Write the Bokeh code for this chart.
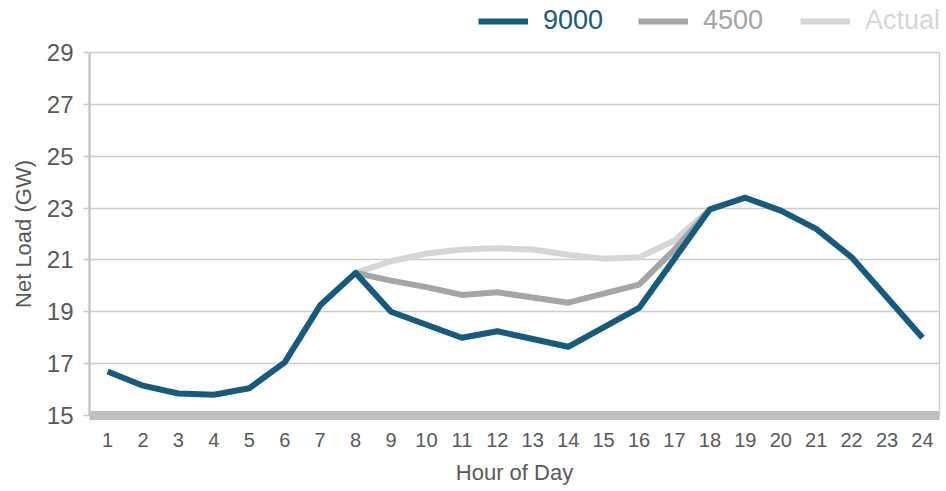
from bokeh.plotting import figure
from bokeh.layouts import column
from bokeh.models import Legend, LegendItem, FixedTicker, Range1d
from bokeh.embed import file_html
from bokeh.resources import INLINE

# Net load by hour of day (GW)
hours = list(range(1, 25))
load_9000 = [16.7, 16.15, 15.85, 15.8, 16.05, 17.05, 19.25, 20.5, 19.0, 18.5, 18.0, 18.25,
             17.95, 17.65, 18.4, 19.15, 21.05, 22.95, 23.4, 22.9, 22.2, 21.1, 19.55, 18.0]

# The 4500 and Actual cases differ from 9000 only between hours 8 and 18
hours_mid = list(range(8, 19))
load_4500 = [20.5, 20.2, 19.95, 19.65, 19.75, 19.55, 19.35, 19.7, 20.05, 21.4, 22.95]
load_actual = [20.5, 20.95, 21.25, 21.4, 21.45, 21.4, 21.2, 21.05, 21.1, 21.75, 22.95]

y_ticks = [15, 17, 19, 21, 23, 25, 27, 29]

series = [("9000", "#165a7e"), ("4500", "#a5a5a5"), ("Actual", "#d6d6d6")]
TEXT = "#595959"
SANS = "Liberation Sans"
LW = 6

# ---- main chart ----
p = figure(width=946, height=455, output_backend="svg", toolbar_location=None,
           x_range=Range1d(0.49, 24.48), y_range=Range1d(15, 29),
           min_border_left=89, min_border_right=7, min_border_top=16, min_border_bottom=76)

p.line(hours_mid, load_actual, line_color=series[2][1], line_width=LW, line_join="round")
p.line(hours_mid, load_4500, line_color=series[1][1], line_width=LW, line_join="round")
p.line(hours, load_9000, line_color=series[0][1], line_width=LW, line_join="round")

p.outline_line_color = "#cfcfcf"
p.outline_line_width = 1.5
p.background_fill_color = "white"
p.border_fill_color = "white"

p.xgrid.visible = False
p.ygrid.grid_line_color = "#cccccc"
p.ygrid.grid_line_width = 1.5

p.yaxis.ticker = FixedTicker(ticks=y_ticks)
p.yaxis.minor_tick_line_color = None
p.yaxis.major_tick_out = 6
p.yaxis.major_tick_in = 0
p.yaxis.major_tick_line_color = "#c8c8c8"
p.yaxis.major_tick_line_width = 1.5
p.yaxis.axis_line_color = "#c0c0c0"
p.yaxis.axis_line_width = 2
p.yaxis.major_label_text_font = SANS
p.yaxis.major_label_text_font_size = "24px"
p.yaxis.major_label_text_color = TEXT
p.yaxis.major_label_standoff = 10
p.yaxis.axis_label = "Net Load (GW)"
p.yaxis.axis_label_text_font = SANS
p.yaxis.axis_label_text_font_size = "22px"
p.yaxis.axis_label_text_font_style = "normal"
p.yaxis.axis_label_text_color = TEXT
p.yaxis.axis_label_standoff = 8

# thick gray baseline along the hour axis
p.xaxis.ticker = FixedTicker(ticks=hours)
p.xaxis.minor_tick_line_color = None
p.xaxis.major_tick_line_color = None
p.xaxis.axis_line_color = "#bfbfbf"
p.xaxis.axis_line_width = 9
p.xaxis.major_label_text_font = SANS
p.xaxis.major_label_text_font_size = "20px"
p.xaxis.major_label_text_color = TEXT
p.xaxis.major_label_standoff = 11
p.xaxis.axis_label = "Hour of Day"
p.xaxis.axis_label_text_font = SANS
p.xaxis.axis_label_text_font_size = "22px"
p.xaxis.axis_label_text_font_style = "normal"
p.xaxis.axis_label_text_color = TEXT
p.xaxis.axis_label_standoff = 10

# ---- legend strip above the chart (its frame lines up with the chart's) ----
lg = figure(width=946, height=36, output_backend="svg", toolbar_location=None,
            x_range=Range1d(0, 1), y_range=Range1d(0, 1),
            min_border_left=89, min_border_right=7, min_border_top=0, min_border_bottom=0)
lg.axis.visible = False
lg.grid.visible = False
lg.outline_line_color = None

# one legend per series so each label takes its line's colour;
# the key renderers sit outside the strip's range and only supply the legend swatch
for (label, color), x_off in zip(series, [389, 549, 711]):
    r = lg.line([-2, -1], [-2, -1], line_color=color, line_width=LW)
    leg = Legend(items=[LegendItem(label=label, renderers=[r])],
                 location=(x_off, 0),
                 glyph_width=50, glyph_height=20, label_standoff=15,
                 padding=0, margin=0, border_line_alpha=0, background_fill_alpha=0,
                 label_text_font=SANS, label_text_font_size="27px",
                 label_text_color=color)
    lg.add_layout(leg, "center")

layout = column(lg, p, spacing=0)
open("out.html", "w").write(file_html(layout, INLINE))
